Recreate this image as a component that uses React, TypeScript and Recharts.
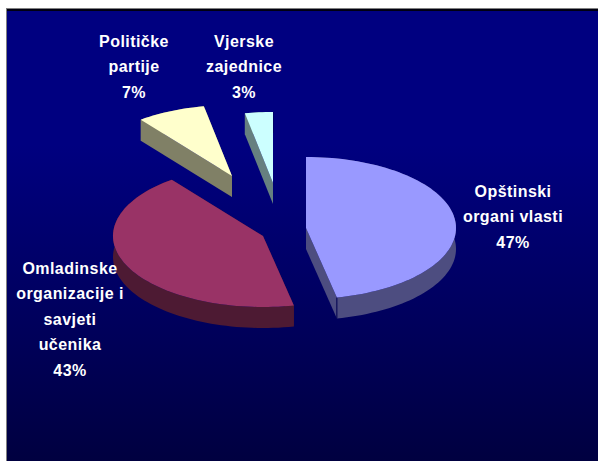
import React from "react";
import { PieChart, Pie } from "recharts";

// ---- data ----
const categories = ["Opštinski organi vlasti", "Omladinske organizacije i savjeti učenika", "Političke partije", "Vjerske zajednice"];
const shares = [46.7, 42.9, 7.4, 3.0];
const labelLines = [
  ["Opštinski", "organi vlasti"],
  ["Omladinske", "organizacije i", "savjeti", "učenika"],
  ["Političke", "partije"],
  ["Vjerske", "zajednice"],
];

// ---- styling ----
const topColors = ["#9999ff", "#993366", "#ffffcc", "#ccffff"];
const sideColors = ["#4d4d80", "#4d1a33", "#808066", "#668080"];
const BASE_CX = 270;
const BASE_CY = 200;
const RX = 150;
const RY = 71;
const DEPTH = 21;
// how far each slice is pulled out of the pie
const explode = [
  { dx: 36, dy: 28 },
  { dx: -7, dy: 36 },
  { dx: -38, dy: -24 },
  { dx: 3, dy: -17 },
];
// label anchor (centre x, first baseline y) relative to the pie's base centre
const labelPos = [
  { dx: 243, dy: -3 },
  { dx: -200, dy: 74 },
  { dx: -136, dy: -153 },
  { dx: -26, dy: -153 },
];
const LINE_HEIGHT = 25.4;

const rad = (deg: number) => (deg * Math.PI) / 180;

function SliceShape(props: any) {
  const { startAngle, endAngle, cx, cy, name } = props;
  const i = categories.indexOf(name);
  const c = { x: cx + explode[i].dx, y: cy + explode[i].dy };
  const pt = (a: number, drop = 0) => ({
    x: c.x + RX * Math.cos(rad(a)),
    y: c.y - RY * Math.sin(rad(a)) + drop,
  });
  const steps = Math.max(8, Math.round(Math.abs(endAngle - startAngle) / 2));
  const arc: number[] = [];
  for (let s = 0; s <= steps; s++) arc.push(startAngle + ((endAngle - startAngle) * s) / steps);
  const P = (p: { x: number; y: number }) => `${p.x.toFixed(2)},${p.y.toFixed(2)}`;
  const top = [P(c), ...arc.map((a) => P(pt(a)))].join(" ");
  const rim = [...arc.map((a) => P(pt(a))), ...arc.slice().reverse().map((a) => P(pt(a, DEPTH)))].join(" ");
  const apexLow = { x: c.x, y: c.y + DEPTH };
  const face = (a: number) => [P(c), P(pt(a)), P(pt(a, DEPTH)), P(apexLow)].join(" ");
  const side = sideColors[i];
  const corner = pt(endAngle);
  const cornerLow = pt(endAngle, DEPTH);
  return (
    <g>
      <polygon points={face(startAngle)} fill={side} />
      <polygon points={face(endAngle)} fill={side} />
      <polygon points={rim} fill={side} />
      <line x1={corner.x} y1={corner.y} x2={cornerLow.x} y2={cornerLow.y} stroke="#000050" strokeWidth={1} />
      <polygon points={top} fill={topColors[i]} />
    </g>
  );
}

function SliceLabel(props: any) {
  const { index, cx, cy, value } = props;
  const pos = labelPos[index];
  const lines = [...labelLines[index], `${Math.round(value)}%`];
  return (
    <text
      textAnchor="middle"
      fontFamily="'Liberation Sans', Arial, sans-serif"
      fontWeight="bold"
      fontSize={16}
      letterSpacing={0.45}
      fill="#ffffff"
    >
      {lines.map((l, k) => (
        <tspan key={k} x={cx + pos.dx} y={cy + pos.dy + k * LINE_HEIGHT}>
          {l}
        </tspan>
      ))}
    </text>
  );
}

const data = categories.map((name, i) => ({ name, value: shares[i] }));

export default function App() {
  return (
    <div style={{ position: "absolute", left: 0, top: 0, width: 598, height: 461, background: "#fff", overflow: "hidden" }}>
      <div
        style={{
          position: "absolute",
          left: 6,
          top: 8,
          width: 592,
          height: 453,
          boxSizing: "border-box",
          borderLeft: "1px solid #808080",
          borderTop: "1px solid #808080",
          background: "linear-gradient(#000010 0, #000010 2px, #000080 2px, #000080 30%, #000040 100%)",
        }}
      />
      <div style={{ position: "absolute", left: 0, top: 0 }}>
        <PieChart width={598} height={461} margin={{ top: 0, right: 0, bottom: 0, left: 0 }}>
          <Pie
            data={data}
            dataKey="value"
            nameKey="name"
            cx={BASE_CX}
            cy={BASE_CY}
            outerRadius={RX}
            startAngle={90}
            endAngle={-270}
            paddingAngle={0}
            stroke="none"
            shape={SliceShape}
            label={SliceLabel}
            labelLine={false}
            isAnimationActive={false}
          />
        </PieChart>
      </div>
    </div>
  );
}
